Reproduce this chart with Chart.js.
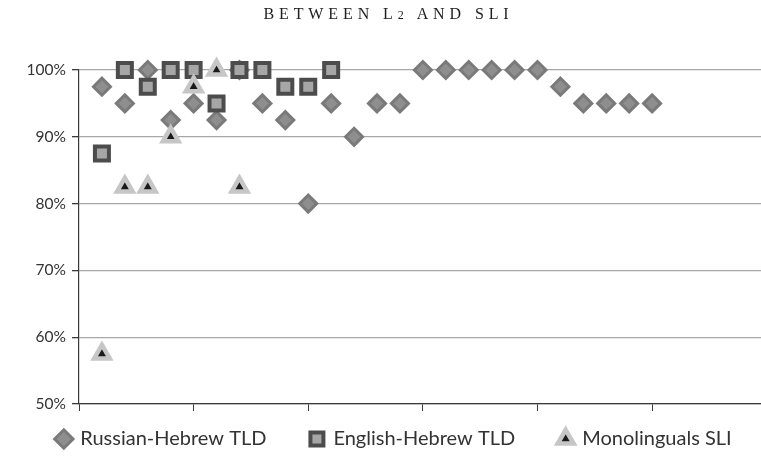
<!DOCTYPE html>
<html>
<head>
<meta charset="utf-8">
<script src="https://cdn.jsdelivr.net/npm/chart.js@4/dist/chart.umd.min.js"></script>
<style>
  html, body { margin: 0; padding: 0; background: #fff; overflow: hidden; }
  #wrap { position: relative; width: 761px; height: 472px; }
  #titulo {
    position: absolute; top: 5px; left: 16px; width: 745px;
    text-align: center; font-family: "Liberation Serif", "DejaVu Serif", serif;
    font-size: 16px; letter-spacing: 4.9px; color: #1e1e1e;
  }
  #titulo sub { font-size: 12px; vertical-align: baseline; }
</style>
</head>
<body>
<div id="wrap">
  <div id="titulo">BETWEEN L<sub>2</sub> AND SLI</div>
  <canvas id="grafico" width="761" height="472"></canvas>
</div>
<script>
// participantes (eje x) y porcentajes
const russianX = [1, 2, 3, 4, 5, 6, 7, 8, 9, 10, 11, 12, 13, 14, 15, 16, 17, 18, 19, 20, 21, 22, 23, 24, 25];
const russianY = [97.5, 95, 100, 92.5, 95, 92.5, 100, 95, 92.5, 80, 95, 90, 95, 95, 100, 100, 100, 100, 100, 100, 97.5, 95, 95, 95, 95];
const englishX = [1, 2, 3, 4, 5, 6, 7, 8, 9, 10, 11];
const englishY = [87.5, 100, 97.5, 100, 100, 95, 100, 100, 97.5, 97.5, 100];
const monoX = [1, 2, 3, 4, 5, 6, 7];
const monoY = [57.5, 82.5, 82.5, 90, 97.5, 100, 82.5];
const xTicks = [0, 5, 10, 15, 20, 25];
const yTicks = [50, 60, 70, 80, 90, 100];
const seriesNames = ['Russian-Hebrew TLD', 'English-Hebrew TLD', 'Monolinguals SLI'];

const puntos = (xs, ys) => xs.map((x, i) => ({ x: x, y: ys[i] }));
const fuente = '"Lato", "Open Sans", sans-serif';
const ejeColor = '#3a3a3a';

// la leyenda de Excel queda mas cerca del eje de lo que permite el padding,
// asi que se recoloca despues del layout (tambien bottom, porque recorta a su caja)
const moverLeyenda = {
    id: 'moverLeyenda',
    afterLayout(chart) {
        const l = chart.legend;
        if (!l) return;
        const dx = 11;
        l.top = chart.chartArea.bottom - 19;
        l.bottom = l.top + 90;
        l.left += dx - 30;
        l.right += dx + 30;
    }
};

const canvas = document.getElementById('grafico');
const chart = new Chart(canvas, {
    type: 'scatter',
    data: {
        datasets: [{
            label: seriesNames[0],
            data: puntos(russianX, russianY),
            pointStyle: 'rectRot',
            pointRadius: 8.5,
            pointBorderWidth: 3,
            pointBackgroundColor: '#8e8e8e',
            pointBorderColor: '#7a7a7a',
            clip: false,
            order: 3
        }, {
            label: seriesNames[1],
            data: puntos(englishX, englishY),
            pointStyle: 'rect',
            pointRadius: 9.9,
            pointBorderWidth: 4,
            pointBackgroundColor: '#a6a6a6',
            pointBorderColor: '#4c4c4c',
            clip: false,
            order: 2
        }, {
            label: seriesNames[2],
            data: puntos(monoX, monoY),
            pointStyle: 'triangle',
            pointRadius: 9,
            pointBorderWidth: 4.5,
            pointBackgroundColor: '#1a1a1a',
            pointBorderColor: '#c6c6c6',
            clip: false,
            order: 1
        }]
    },
    plugins: [moverLeyenda],
    options: {
        responsive: false,
        animation: false,
        events: [],
        layout: { autoPadding: false, padding: { top: 70, left: 0, right: -6, bottom: 34 } },
        plugins: {
            tooltip: { enabled: false },
            legend: {
                position: 'bottom',
                maxHeight: 30,
                labels: {
                    usePointStyle: true,
                    boxHeight: 13,
                    boxWidth: 13,
                    padding: 44,
                    color: '#333',
                    font: { family: fuente, size: 20 },
                    sort: (a, b) => a.datasetIndex - b.datasetIndex
                }
            }
        },
        scales: {
            x: {
                type: 'linear',
                min: 0,
                // el eje del original sigue un poco mas alla del borde derecho
                max: 29.75,
                afterBuildTicks: (scale) => { scale.ticks = xTicks.map(v => ({ value: v })); },
                afterFit: (scale) => { scale.height = 4; },
                ticks: { display: false },
                grid: { drawOnChartArea: false, drawTicks: true, tickLength: 7, tickColor: ejeColor },
                border: { color: ejeColor, width: 1.2 }
            },
            y: {
                min: 50,
                max: 100,
                afterBuildTicks: (scale) => { scale.ticks = yTicks.map(v => ({ value: v })); },
                afterFit: (scale) => { scale.width = 79; },
                ticks: {
                    padding: 6,
                    color: '#333',
                    font: { family: fuente, size: 15.5 },
                    callback: (v) => v + '%'
                },
                grid: { color: '#a8a8a8', lineWidth: 1.3, tickLength: 7, tickColor: ejeColor },
                border: { color: ejeColor, width: 1.2 }
            }
        }
    }
});
</script>
</body>
</html>
